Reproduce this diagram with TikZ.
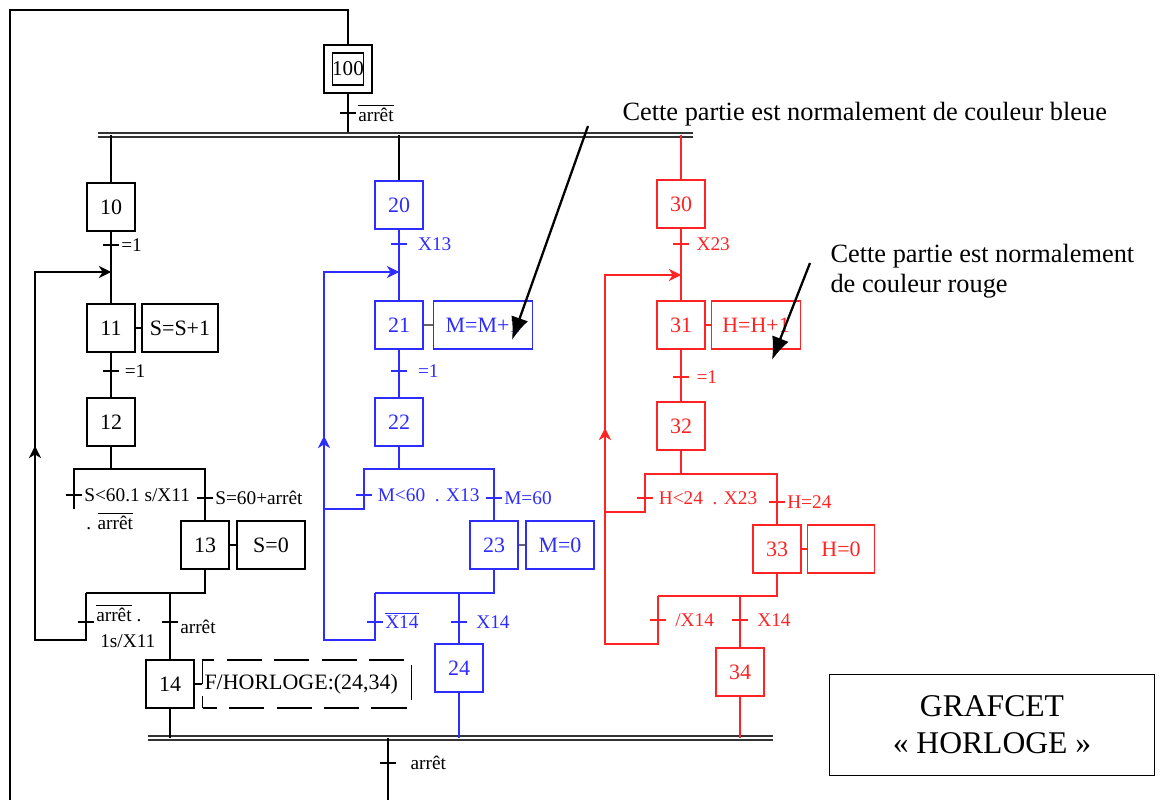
\documentclass[tikz,border=0pt]{standalone}
\usepackage{fontspec}
\setmainfont{Liberation Serif}
\usepackage{tikz}
\usetikzlibrary{arrows.meta}

\definecolor{bleu}{RGB}{45,45,255}
\definecolor{rouge}{RGB}{255,35,35}

\tikzset{
  etape/.style={draw, minimum width=0.96cm, minimum height=0.96cm, inner sep=0pt, font=\fontsize{12.5}{14}\selectfont},
  action/.style={draw, minimum height=0.96cm, inner sep=1pt, font=\fontsize{12.5}{14}\selectfont},
  recept/.style={anchor=west, inner sep=1pt, font=\fontsize{11}{13}\selectfont},
  barre/.style={double, double distance=1.6pt, line width=0.7pt, draw=black!80},
  boucle/.style={-{Stealth[length=7pt,width=7pt]}},
  fleche/.style={line width=1.3pt, -{Latex[length=13pt,width=10pt]}},
  note/.style={anchor=base west, inner sep=0pt, font=\fontsize{15}{17}\selectfont, align=left}
}

\begin{document}
\begin{tikzpicture}[x=0.02cm, y=-0.02cm, line width=0.6pt]
  \useasboundingbox (0,0) rectangle (1166,800);

  \node[etape] (s100) at (348,69) {};
  \node[etape, minimum width=0.62cm, minimum height=0.64cm, font=\fontsize{12}{14}\selectfont] (s100i) at (348,69) {100};
  \coordinate (bar1g) at (98,135);
  \coordinate (bar1d) at (693,135);
  \coordinate (bar2g) at (148,738);
  \coordinate (bar2d) at (773,738);
  \draw (s100) -- (348,10) -- (10,10) -- (10,800);
  \draw (s100) -- (348,135);
  \draw (340,113) -- (356,113) node[recept] (t100) {$\overline{\mbox{arrêt}}$};
  \draw[barre] (bar1g) -- (bar1d);
  \draw[barre] (bar2g) -- (bar2d);
  \draw (388,738) -- (388,800);
  \draw (380,763) -- (396,763) node[recept, xshift=7pt] (tfin) {arrêt};

  \node[etape] (s10) at (111,207) {10};
  \node[etape] (s11) at (111,328) {11};
  \node[action, minimum width=1.52cm] (a11) at (180,328) {S=S+1};
  \node[etape] (s12) at (111,422) {12};
  \node[etape] (s13) at (205,545) {13};
  \node[action, minimum width=1.36cm] (a13) at (271,545) {S=0};
  \node[etape] (s14) at (170,684) {14};
  \node[action, dash pattern=on 20pt off 7pt, dash phase=12pt, text width=4.1cm, align=left] (a14) at (307,684) {F/HORLOGE:(24,34)};
  \draw (111,135) -- (s10);
  \draw (s10) -- (s11);
  \draw (s11) -- (a11);
  \draw (s11) -- (s12);
  \draw (103,245) -- (119,245) node[recept] (t10) {=1};
  \draw (103,371) -- (119,371) node[recept, xshift=2pt] (t11) {=1};
  \draw (s12) -- (111,469);
  \draw (74,509) -- (74,469) -- (205,469) -- (s13);
  \draw (66,495) -- (82,495) node[recept] (t12a) {S<60.1 s/X11};
  \node[recept] (t12b) at (84,521) {. $\overline{\mbox{arrêt}}$};
  \draw (197,498) -- (213,498) node[recept] (t12c) {S=60+arrêt};
  \draw (s13) -- (a13);
  \draw (s13) -- (205,593) -- (86,593);
  \draw (170,593) -- (s14);
  \draw (78,622) -- (94,622) node[recept, yshift=5pt] (t13a) {$\overline{\mbox{arrêt}}$ .};
  \node[recept] (t13b) at (98,641) {1s/X11};
  \draw (162,622) -- (178,622) node[recept, yshift=-3pt] (t13c) {arrêt};
  \draw (s14) -- (a14);
  \draw (s14) -- (170,738);
  \draw[boucle] (86,593) -- (86,640) -- (35,640) -- (35,446);
  \draw[boucle] (35,452) -- (35,272) -- (111,272);

  \begin{scope}[bleu]
    \node[etape] (s20) at (399,205) {20};
    \node[etape] (s21) at (399,325) {21};
    \node[action, minimum width=1.98cm] (a21) at (483,325) {M=M+1};
    \node[etape] (s22) at (399,422) {22};
    \node[etape] (s23) at (494,545) {23};
    \node[action, minimum width=1.36cm] (a23) at (560,545) {M=0};
    \node[etape] (s24) at (459,668) {24};
    \draw[black] (399,135) -- (s20);
    \draw (s20) -- (s21);
    \draw[black!60] (s21) -- (a21);
    \draw (s21) -- (s22);
    \draw (391,244) -- (407,244) node[recept, xshift=5pt] (t20) {X13};
    \draw (391,371) -- (407,371) node[recept, xshift=5pt] (t21) {=1};
    \draw (s22) -- (399,469);
    \draw (324,509) -- (364,509) -- (364,469) -- (494,469) -- (s23);
    \draw (356,495) -- (372,495) node[recept, xshift=2pt] (t22a) {M<60 \ . X13};
    \draw (486,498) -- (502,498) node[recept] (t22b) {M=60};
    \draw[black!60] (s23) -- (a23);
    \draw (s23) -- (494,593) -- (375,593);
    \draw (459,593) -- (s24);
    \draw (367,622) -- (383,622) node[recept, yshift=1pt] (t23a) {$\overline{\mbox{X14}}$};
    \draw (451,622) -- (467,622) node[recept, xshift=4pt] (t23b) {X14};
    \draw (s24) -- (459,738);
    \draw[boucle] (375,593) -- (375,640) -- (324,640) -- (324,436);
    \draw[boucle] (324,442) -- (324,272) -- (399,272);
  \end{scope}

  \begin{scope}[rouge]
    \node[etape] (s30) at (681,204) {30};
    \node[etape] (s31) at (681,325) {31};
    \node[action, minimum width=1.78cm] (a31) at (756,325) {H=H+1};
    \node[etape] (s32) at (681,426) {32};
    \node[etape] (s33) at (777,549) {33};
    \node[action, minimum width=1.34cm] (a33) at (841,549) {H=0};
    \node[etape] (s34) at (740,672) {34};
    \draw (681,135) -- (s30);
    \draw (s30) -- (s31);
    \draw (s31) -- (a31);
    \draw (s31) -- (s32);
    \draw (673,244) -- (689,244) node[recept, xshift=3pt] (t30) {X23};
    \draw (673,377) -- (689,377) node[recept, xshift=3pt] (t31) {=1};
    \draw (s32) -- (681,474);
    \draw (605,512) -- (645,512) -- (645,474) -- (777,474) -- (s33);
    \draw (637,498) -- (653,498) node[recept, xshift=2pt] (t32a) {H<24 \ . X23};
    \draw (769,502) -- (785,502) node[recept] (t32b) {H=24};
    \draw (s33) -- (a33);
    \draw (s33) -- (777,596) -- (658,596);
    \draw (740,596) -- (s34);
    \draw (650,620) -- (666,620) node[recept, xshift=4pt] (t33a) {/X14};
    \draw (732,620) -- (748,620) node[recept, xshift=4pt] (t33b) {X14};
    \draw (s34) -- (740,738);
    \draw[boucle] (658,596) -- (658,644) -- (605,644) -- (605,428);
    \draw[boucle] (605,434) -- (605,275) -- (681,275);
  \end{scope}

  \node[note] (nbleu) at (622,121) {Cette partie est normalement de couleur bleue};
  \node[note] (nrouge) at (830,263) {Cette partie est normalement};
  \node[note] (nrouge2) at (830,293) {de couleur rouge};
  \coordinate (fbleu) at (512,340);
  \coordinate (frouge) at (772,360);
  \draw[fleche] (588,126) -- (fbleu);
  \draw[fleche] (810,263) -- (frouge);

  \node[draw, line width=0.9pt, minimum width=6.5cm, minimum height=2.02cm, align=center, font=\fontsize{18}{21}\selectfont] (titre) at (992,725) {GRAFCET\\« HORLOGE »};
\end{tikzpicture}
\end{document}
